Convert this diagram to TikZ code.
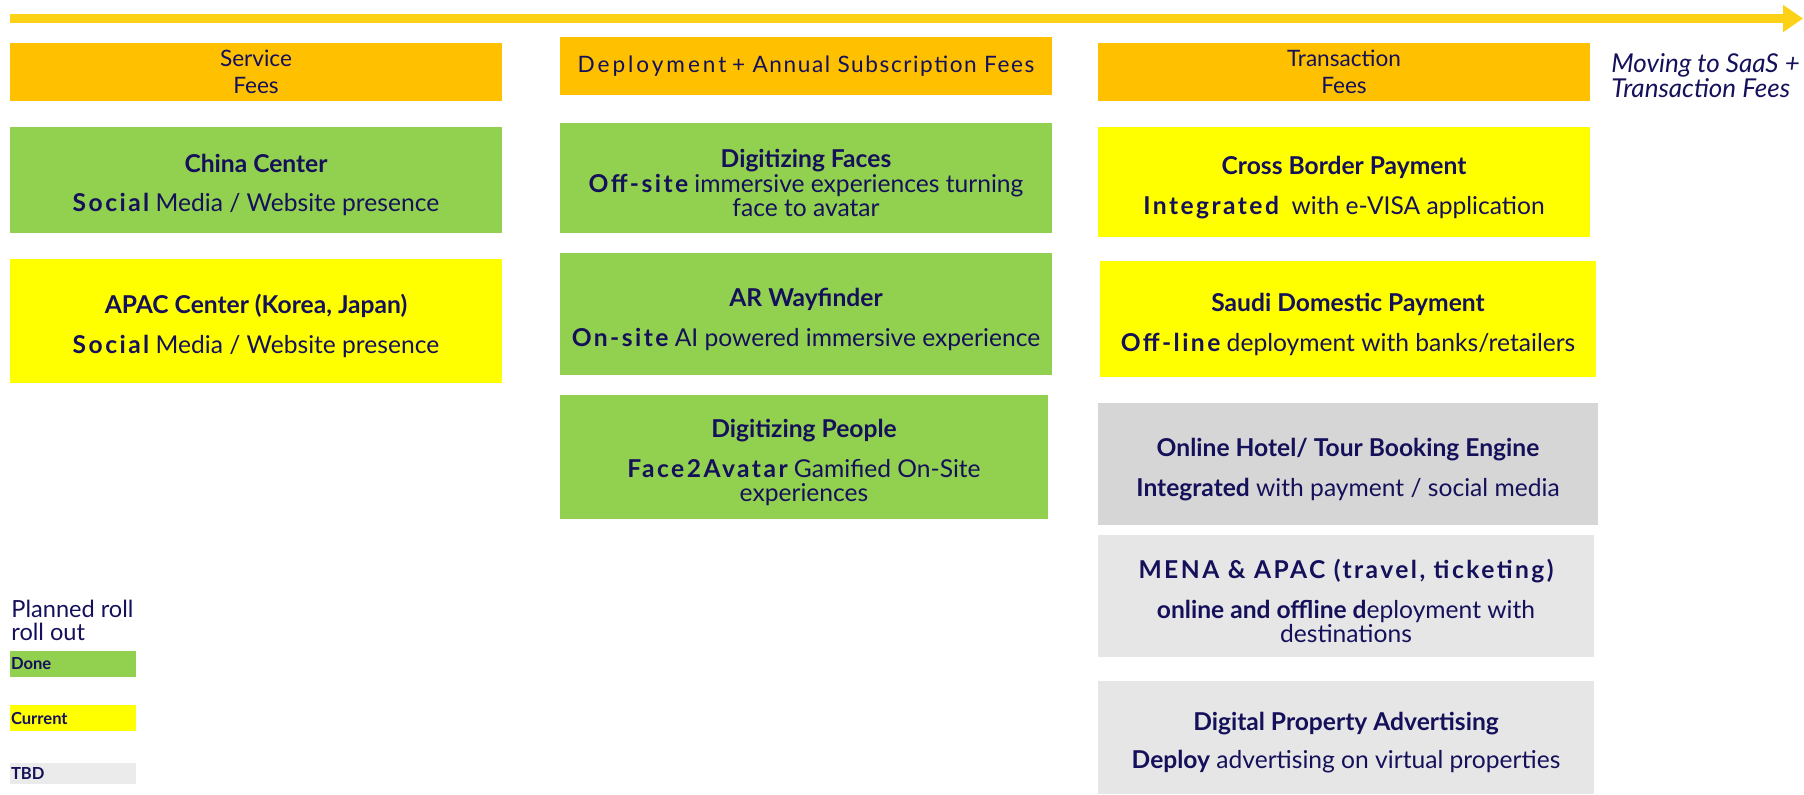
\documentclass[tikz,border=0pt]{standalone}
\usepackage{fontspec}
\setmainfont{Lato}
\newfontfamily\spc[LetterSpace=10]{Lato}
\newfontfamily\spch[LetterSpace=7]{Lato}
\newfontfamily\spcw[LetterSpace=13]{Lato}
\newcommand\ttl[1]{\rule{0pt}{14.5pt}{\bfseries #1}}
\usetikzlibrary{arrows.meta}
\definecolor{ink}{HTML}{14105A}
\definecolor{gold}{HTML}{FCD116}
\definecolor{hdr}{HTML}{FFC000}
\definecolor{done}{HTML}{92D050}
\definecolor{cur}{HTML}{FFFF00}
\definecolor{grayA}{HTML}{D6D6D6}
\definecolor{grayB}{HTML}{E6E6E6}
\definecolor{grayC}{HTML}{EBEBEB}
\begin{document}
\begin{tikzpicture}[x=0.5pt,y=-0.5pt,
  card/.style={inner sep=0pt, outer sep=0pt, text=ink, align=center, font=\fontsize{12.3}{12}\selectfont},
  head/.style={inner sep=0pt, outer sep=0pt, text=ink, align=center, fill=hdr, font=\fontsize{11.3}{13.5}\selectfont},
  legbar/.style={inner sep=0pt, outer sep=0pt, minimum width=63pt, text width=62pt, align=left, text=ink, font=\fontsize{8.3}{9}\selectfont\bfseries}
]
\useasboundingbox (0,0) rectangle (1804,794);
% timeline arrow
\coordinate (a0) at (10,18.5);
\coordinate (a1) at (1803,18.5);
\draw[gold, line width=4.5pt, -{Triangle[length=10pt,width=13pt]}] (a0) -- (a1);

% column 1
\node[head, minimum width=246pt, minimum height=29pt] (svc) at (256,72) {Service\\Fees};
\node[card, fill=done, minimum width=246pt, minimum height=53pt] (china) at (256,180)
  {\ttl{China Center}\\[7.5pt]{\spc\bfseries Social} Media / Website presence};
\node[card, fill=cur, minimum width=246pt, minimum height=62pt] (apac) at (256,321)
  {\ttl{APAC Center (Korea, Japan)}\\[8pt]{\spc\bfseries Social} Media / Website presence};

% column 2
\node[head, minimum width=246pt, minimum height=29pt] (dep) at (806,66) {{\spcw Deployment} {\spch+ Annual Subscription Fees}};
\node[card, fill=done, minimum width=246pt, minimum height=55pt] (faces) at (806,178)
  {\ttl{Digitizing Faces}\\[0.5pt]{\spc\bfseries Off-site} immersive experiences turning\\face to avatar};
\node[card, fill=done, minimum width=246pt, minimum height=61pt] (ar) at (806,314)
  {\ttl{AR Wayfinder}\\[8pt]{\spc\bfseries On-site} AI powered immersive experience};
\node[card, fill=done, minimum width=244pt, minimum height=62pt] (people) at (804,457)
  {\ttl{Digitizing People}\\[8pt]{\spc\bfseries Face2Avatar} Gamified On-Site\\experiences};

% column 3
\node[head, minimum width=246pt, minimum height=29pt] (trx) at (1344,72) {Transaction\\Fees};
\node[anchor=west, inner sep=0pt, text=ink, align=left, font=\fontsize{13}{12.5}\selectfont\itshape] (saas) at (1611,76) {Moving to SaaS +\\Transaction Fees};
\node[card, fill=cur, minimum width=246pt, minimum height=55pt] (cross) at (1344,182)
  {\ttl{Cross Border Payment}\\[8pt]{\spc\bfseries Integrated}\ \ with e-VISA application};
\node[card, fill=cur, minimum width=248pt, minimum height=58pt] (saudi) at (1348,319)
  {\ttl{Saudi Domestic Payment}\\[8pt]{\spc\bfseries Off-line} deployment with banks/retailers};
\node[card, fill=grayA, minimum width=250pt, minimum height=61pt] (hotel) at (1348,464)
  {\ttl{Online Hotel/ Tour Booking Engine}\\[8pt]{\bfseries Integrated} with payment / social media};
\node[card, fill=grayB, minimum width=248pt, minimum height=61pt] (mena) at (1346,596)
  {\ttl{\spc MENA \& APAC (travel, ticketing)}\\[8pt]{\bfseries online and offline d}eployment with\\destinations};
\node[card, fill=grayB, minimum width=248pt, minimum height=56.5pt] (prop) at (1346,737.5)
  {\ttl{Digital Property Advertising}\\[7pt]{\bfseries Deploy} advertising on virtual properties};

% legend
\node[anchor=west, inner sep=0pt, text=ink, align=left, font=\fontsize{11.8}{11.5}\selectfont] (plan) at (11,620) {Planned roll\\roll out};
\node[legbar, fill=done, minimum height=13pt] (ldone) at (73,664) {Done};
\node[legbar, fill=cur, minimum height=13pt] (lcur) at (73,718) {Current};
\node[legbar, fill=grayC, minimum height=10.5pt] (ltbd) at (73,773.5) {TBD};
\end{tikzpicture}
\end{document}
